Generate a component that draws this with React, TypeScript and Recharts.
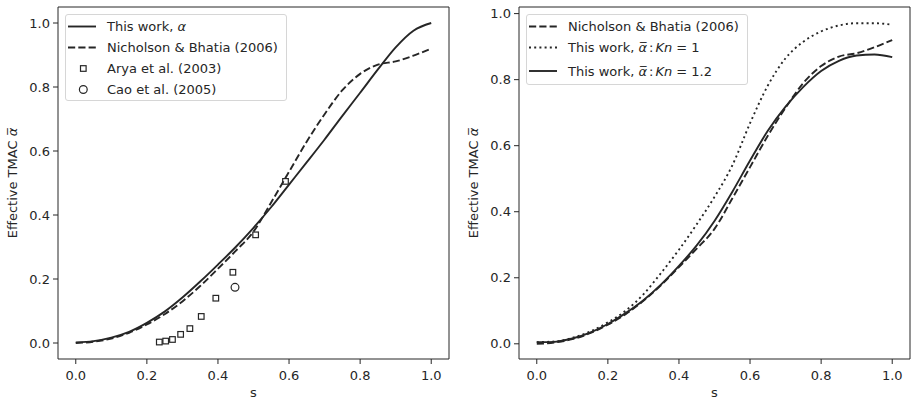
import React from "react"
import { ComposedChart, Line, Scatter, XAxis, YAxis, ReferenceArea, Legend } from "recharts"

const FONT = "'DejaVu Sans', sans-serif"
const INK = "#262626"

// s values shared by all model curves
const sGrid = [0, 0.05, 0.1, 0.15, 0.2, 0.25, 0.3, 0.35, 0.4, 0.45, 0.5, 0.55, 0.6, 0.65, 0.7, 0.75, 0.8, 0.85, 0.9, 0.95, 1.0]
const thisWorkAlpha = [0.002, 0.006, 0.017, 0.035, 0.063, 0.098, 0.142, 0.192, 0.245, 0.3, 0.36, 0.425, 0.495, 0.565, 0.636, 0.71, 0.782, 0.855, 0.924, 0.976, 1.0]
const nicholsonBhatia = [0.0, 0.004, 0.014, 0.032, 0.058, 0.09, 0.13, 0.178, 0.232, 0.288, 0.348, 0.44, 0.535, 0.63, 0.715, 0.79, 0.841, 0.87, 0.88, 0.898, 0.92]
const thisWorkKn1 = [0.005, 0.007, 0.018, 0.037, 0.065, 0.1, 0.15, 0.215, 0.285, 0.362, 0.445, 0.54, 0.668, 0.782, 0.865, 0.915, 0.946, 0.964, 0.971, 0.971, 0.966]
const thisWorkKn12 = [0.005, 0.006, 0.016, 0.034, 0.06, 0.093, 0.132, 0.18, 0.236, 0.298, 0.372, 0.46, 0.555, 0.645, 0.718, 0.778, 0.826, 0.857, 0.873, 0.876, 0.868]

// experimental points
const aryaS = [0.235, 0.253, 0.272, 0.295, 0.321, 0.353, 0.394, 0.442, 0.506, 0.59]
const aryaV = [0.003, 0.006, 0.011, 0.027, 0.045, 0.083, 0.14, 0.221, 0.338, 0.505]
const caoS = [0.448]
const caoV = [0.174]

const xTicks = [0, 0.2, 0.4, 0.6, 0.8, 1.0]
const yTicks = [0, 0.2, 0.4, 0.6, 0.8, 1.0]

const pairs = (xs: number[], ys: number[]) => xs.map((s, i) => ({ s, v: ys[i] }))

const tickStyle = { fill: INK, fontSize: 13, fontFamily: FONT }
const fmt = (v: number) => v.toFixed(1)

const SquareMark = (p: any) => (
  <rect x={p.cx - 2.8} y={p.cy - 2.8} width={5.6} height={5.6} fill="none" stroke={INK} strokeWidth={1.2} />
)
const CircleMark = (p: any) => <circle cx={p.cx} cy={p.cy} r={3.9} fill="none" stroke={INK} strokeWidth={1.2} />

const yLabel = (x: number) => (props: any) => {
  const vb = props.viewBox || { y: 7, height: 352 }
  const y = vb.y + vb.height / 2
  return (
    <text x={x} y={y} transform={`rotate(-90 ${x} ${y})`} textAnchor="middle" fill={INK} fontSize={13} fontFamily={FONT}>
      Effective TMAC <tspan fontStyle="italic">α̅</tspan>
    </text>
  )
}

type Item = { label: React.ReactNode; h: number; kind: "solid" | "dashed" | "dotted" | "square" | "circle" }

const LegendBox = ({ items }: { items: Item[] }) => (
  <div
    style={{
      width: 222,
      boxSizing: "border-box",
      border: "1px solid #d6d6d6",
      borderRadius: 3,
      background: "rgba(255,255,255,0.85)",
      paddingTop: 1,
      fontFamily: FONT,
      fontSize: 13,
      color: INK,
    }}
  >
    {items.map((it, i) => (
      <div key={i} style={{ display: "flex", alignItems: "center", height: it.h, whiteSpace: "nowrap" }}>
        <svg width={41} height={it.h} style={{ flex: "none" }}>
          {it.kind === "square" && <SquareMark cx={17.3} cy={it.h / 2} />}
          {it.kind === "circle" && <CircleMark cx={17.3} cy={it.h / 2} />}
          {(it.kind === "solid" || it.kind === "dashed" || it.kind === "dotted") && (
            <line
              x1={2}
              x2={30}
              y1={it.h / 2}
              y2={it.h / 2}
              stroke={INK}
              strokeWidth={1.9}
              strokeDasharray={it.kind === "dashed" ? "7.2 3.1" : it.kind === "dotted" ? "2 3.2" : undefined}
            />
          )}
        </svg>
        <span>{it.label}</span>
      </div>
    ))}
  </div>
)

const abar = <span style={{ fontStyle: "italic" }}>α̅</span>
const knLabel = (kn: string) => (
  <>
    This work, {abar}
    <span style={{ margin: "0 2px" }}>:</span>
    <i>Kn</i> = {kn}
  </>
)

const leftItems: Item[] = [
  { label: <>This work, <i>α</i></>, h: 21, kind: "solid" },
  { label: "Nicholson & Bhatia (2006)", h: 21, kind: "dashed" },
  { label: "Arya et al. (2003)", h: 21, kind: "square" },
  { label: "Cao et al. (2005)", h: 21, kind: "circle" },
]
const rightItems: Item[] = [
  { label: "Nicholson & Bhatia (2006)", h: 21, kind: "dashed" },
  { label: knLabel("1"), h: 21, kind: "dotted" },
  { label: knLabel("1.2"), h: 26, kind: "solid" },
]

const Panel = ({
  yDomain,
  yAxisWidth,
  rightMargin,
  labelX,
  legendLeft,
  items,
  children,
}: {
  yDomain: [number, number]
  yAxisWidth: number
  rightMargin: number
  labelX: number
  legendLeft: number
  items: Item[]
  children: React.ReactNode
}) => (
  <ComposedChart width={yAxisWidth + 391 + rightMargin} height={400} margin={{ top: 7, right: rightMargin, bottom: 0, left: 0 }}>
    <XAxis
      type="number"
      dataKey="s"
      domain={[-0.05, 1.05]}
      ticks={xTicks}
      interval={0}
      allowDataOverflow
      tickFormatter={fmt}
      tick={tickStyle}
      tickLine={{ stroke: INK }}
      axisLine={false}
      tickSize={5}
      tickMargin={7}
      height={41}
      label={{ value: "s", position: "insideBottom", offset: 3, fill: INK, fontSize: 13, fontFamily: FONT }}
    />
    <YAxis
      type="number"
      dataKey="v"
      domain={yDomain}
      ticks={yTicks}
      interval={0}
      allowDataOverflow
      tickFormatter={fmt}
      tick={tickStyle}
      tickLine={{ stroke: INK }}
      axisLine={false}
      tickSize={5}
      tickMargin={3}
      width={yAxisWidth}
      label={yLabel(labelX)}
    />
    <ReferenceArea x1={-0.05} x2={1.05} y1={yDomain[0]} y2={yDomain[1]} fill="none" fillOpacity={0} stroke={INK} strokeWidth={1} />
    {children}
    <Legend
      layout="horizontal"
      verticalAlign="middle"
      align="center"
      wrapperStyle={{ top: 14, left: legendLeft, width: 222 }}
      content={() => <LegendBox items={items} />}
    />
  </ComposedChart>
)

export default function App() {
  return (
    <div style={{ position: "absolute", left: 0, top: 0, width: 911, height: 400, background: "#fff" }}>
      <div style={{ position: "absolute", left: 0, top: 0 }}>
        <Panel yDomain={[-0.05, 1.05]} yAxisWidth={58} rightMargin={6} labelX={17} legendLeft={65} items={leftItems}>
          <Line data={pairs(sGrid, thisWorkAlpha)} dataKey="v" type="monotone" stroke={INK} strokeWidth={1.9} dot={false} isAnimationActive={false} />
          <Line data={pairs(sGrid, nicholsonBhatia)} dataKey="v" type="monotone" stroke={INK} strokeWidth={1.9} strokeDasharray="7.2 3.1" dot={false} isAnimationActive={false} />
          <Scatter data={pairs(aryaS, aryaV)} dataKey="v" shape={SquareMark} isAnimationActive={false} />
          <Scatter data={pairs(caoS, caoV)} dataKey="v" shape={CircleMark} isAnimationActive={false} />
        </Panel>
      </div>
      <div style={{ position: "absolute", left: 455, top: 0 }}>
        <Panel yDomain={[-0.046, 1.02]} yAxisWidth={64} rightMargin={1} labelX={23} legendLeft={71} items={rightItems}>
          <Line data={pairs(sGrid, nicholsonBhatia)} dataKey="v" type="monotone" stroke={INK} strokeWidth={1.9} strokeDasharray="7.2 3.1" dot={false} isAnimationActive={false} />
          <Line data={pairs(sGrid, thisWorkKn1)} dataKey="v" type="monotone" stroke={INK} strokeWidth={1.9} strokeDasharray="2 3.2" dot={false} isAnimationActive={false} />
          <Line data={pairs(sGrid, thisWorkKn12)} dataKey="v" type="monotone" stroke={INK} strokeWidth={1.9} dot={false} isAnimationActive={false} />
        </Panel>
      </div>
    </div>
  )
}
